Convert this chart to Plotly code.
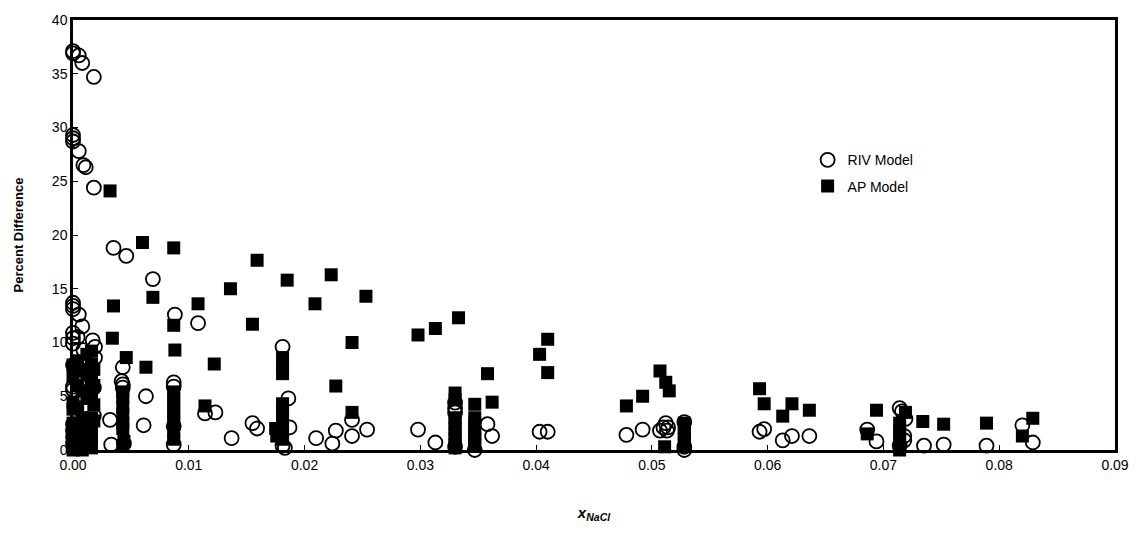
import plotly.graph_objects as go

# RIV model: (x_NaCl, percent difference)
riv_x = [0.0, 0.0, 0.0, 0.0, 0.0, 0.0, 0.0, 0.0, 0.0, 0.0, 0.0, 0.0, 0.0, 0.0, 0.0, 0.0, 0.0, 0.0,
         0.0005, 0.0005, 0.0005, 0.0004, 0.0005, 0.0005,
         0.0008, 0.0009, 0.0011, 0.0008, 0.0009, 0.0009,
         0.0018, 0.0018, 0.0017, 0.0019, 0.0019, 0.0018, 0.0018,
         0.0035, 0.0032, 0.0033,
         0.0046, 0.0043, 0.0042, 0.0043, 0.0043, 0.0044,
         0.0069, 0.0063, 0.0061,
         0.0088, 0.0087, 0.0087, 0.0087, 0.0087,
         0.0108, 0.0114, 0.0123,
         0.0137, 0.0155, 0.0159,
         0.0181, 0.0186, 0.0187, 0.0181, 0.0183,
         0.0210, 0.0224, 0.0227, 0.0241, 0.0241, 0.0254,
         0.0298, 0.0313,
         0.0330, 0.0330, 0.0330, 0.0330,
         0.0347,
         0.0358, 0.0362, 0.0403, 0.0410,
         0.0478, 0.0492, 0.0507, 0.0512, 0.0510, 0.0514, 0.0513,
         0.0528, 0.0528, 0.0528,
         0.0593, 0.0597, 0.0613, 0.0621, 0.0636,
         0.0686, 0.0694,
         0.0714, 0.0716, 0.0719, 0.0718, 0.0718, 0.0714,
         0.0735, 0.0752, 0.0789, 0.0820, 0.0829]
riv_y = [37.1, 36.9, 29.3, 29.0, 28.7, 13.7, 13.4, 13.1, 10.9, 10.4, 9.9, 7.9, 5.9, 5.6, 2.4, 1.8, 1.2, 0.6,
         36.7, 27.8, 12.6, 10.5, 6.2, 2.0,
         36.0, 26.5, 26.3, 11.5, 9.3, 5.0,
         34.7, 24.4, 10.2, 9.6, 8.6, 5.8, 3.2,
         18.8, 2.8, 0.5,
         18.05, 7.7, 6.4, 6.1, 5.8, 0.6,
         15.9, 5.0, 2.3,
         12.6, 6.3, 5.9, 2.2, 0.5,
         11.8, 3.4, 3.5,
         1.1, 2.5, 2.0,
         9.6, 4.8, 2.1, 0.4, 0.2,
         1.1, 0.6, 1.8, 2.8, 1.3, 1.9,
         1.9, 0.7,
         4.4, 3.9, 3.5, 0.3,
         0.0,
         2.4, 1.3, 1.7, 1.7,
         1.4, 1.9, 1.8, 2.5, 2.1, 2.1, 1.8,
         2.6, 0.3, 0.0,
         1.7, 1.95, 0.9, 1.3, 1.3,
         1.9, 0.8,
         3.9, 3.6, 2.9, 1.3, 0.9, 0.4,
         0.4, 0.5, 0.4, 2.3, 0.7]

# AP model: (x_NaCl, percent difference)
ap_x = [0.0, 0.0, 0.0, 0.0, 0.0, 0.0, 0.0, 0.0, 0.0,
        0.0004, 0.0004, 0.0004, 0.0004, 0.0004,
        0.0008, 0.0008, 0.0008, 0.0008, 0.0008,
        0.0012, 0.0012, 0.0012, 0.0012, 0.0012,
        0.0016, 0.0016, 0.0016, 0.0016, 0.0016, 0.0016, 0.0016, 0.0016,
        0.0018, 0.0018, 0.0018, 0.0018,
        0.0032, 0.0035, 0.0034,
        0.0046, 0.0043, 0.0043, 0.0043, 0.0043, 0.0043, 0.0043, 0.0044, 0.0043,
        0.0060, 0.0069, 0.0063,
        0.0087, 0.0087, 0.0088, 0.0087, 0.0087, 0.0087, 0.0087, 0.0087, 0.0087, 0.0087, 0.0087,
        0.0108, 0.0122, 0.0114, 0.0136,
        0.0159, 0.0155,
        0.0185, 0.0181, 0.0181, 0.0181, 0.0181, 0.0181, 0.0181, 0.0181, 0.0181, 0.0181, 0.0175, 0.0176,
        0.0223, 0.0209, 0.0253, 0.0241, 0.0227, 0.0241,
        0.0298, 0.0313, 0.0333,
        0.0330, 0.0330, 0.0330, 0.0330, 0.0330, 0.0330, 0.0330, 0.0330, 0.0330,
        0.0347, 0.0347, 0.0347, 0.0347, 0.0347, 0.0347, 0.0347,
        0.0358, 0.0362,
        0.0410, 0.0403, 0.0410,
        0.0478, 0.0492, 0.0507, 0.0512, 0.0515,
        0.0528, 0.0528, 0.0528, 0.0528, 0.0528, 0.0511,
        0.0593, 0.0597, 0.0621, 0.0613, 0.0636,
        0.0686, 0.0694,
        0.0719, 0.0714, 0.0714, 0.0714, 0.0714, 0.0714,
        0.0734, 0.0752, 0.0789, 0.0829, 0.0820]
ap_y = [7.9, 6.8, 4.4, 3.8, 2.5, 1.8, 1.0, 0.3, 0.0,
        8.3, 6.0, 4.0, 2.0, 0.5,
        7.5, 5.5, 3.0, 1.5, 0.0,
        8.9, 7.0, 4.8, 2.5, 1.0,
        9.2, 8.0, 6.5, 4.8, 3.0, 2.2, 1.2, 0.2,
        7.5, 6.0, 4.2, 2.7,
        24.1, 13.4, 10.4,
        8.6, 5.4, 4.9, 4.0, 3.3, 2.5, 2.0, 0.8, 0.4,
        19.3, 14.2, 7.7,
        18.8, 11.6, 9.3, 5.4, 4.8, 4.2, 3.6, 3.0, 2.4, 1.6, 1.0,
        13.6, 8.0, 4.1, 15.0,
        17.65, 11.7,
        15.8, 8.6, 7.9, 7.1, 4.3, 3.6, 3.0, 2.3, 1.6, 1.0, 2.0, 1.3,
        16.3, 13.6, 14.3, 10.0, 5.95, 3.5,
        10.7, 11.3, 12.3,
        5.3, 4.7, 3.0, 2.5, 2.0, 1.5, 1.0, 0.5, 0.2,
        4.25, 3.0, 2.5, 2.0, 1.5, 1.0, 0.5,
        7.1, 4.45,
        10.3, 8.9, 7.2,
        4.1, 5.0, 7.35, 6.3, 5.5,
        2.5, 2.0, 1.5, 1.0, 0.6, 0.3,
        5.7, 4.3, 4.3, 3.15, 3.7,
        1.5, 3.7,
        3.5, 2.5, 1.8, 1.2, 0.6, 0.0,
        2.65, 2.4, 2.5, 2.95, 1.3]

x_ticks = [0.0, 0.01, 0.02, 0.03, 0.04, 0.05, 0.06, 0.07, 0.08, 0.09]
x_tick_text = ["0.00", "0.01", "0.02", "0.03", "0.04", "0.05", "0.06", "0.07", "0.08", "0.09"]
y_ticks = [0, 5, 10, 15, 20, 25, 30, 35, 40]

font_family = "Liberation Sans, Arial, sans-serif"

fig = go.Figure()
fig.add_trace(go.Scatter(
    x=riv_x, y=riv_y, mode="markers", name="RIV Model", legendgroup="riv",
    marker=dict(symbol="circle-open", size=14, color="black", line=dict(width=1.8, color="black")),
    cliponaxis=False,
))
fig.add_trace(go.Scatter(
    x=ap_x, y=ap_y, mode="markers", name="AP Model", legendgroup="ap",
    marker=dict(symbol="square", size=13, color="black", line=dict(width=0)),
    cliponaxis=False,
))

fig.update_layout(
    width=1141, height=554,
    margin=dict(l=73, r=25, t=16, b=104),
    paper_bgcolor="white", plot_bgcolor="white",
    font=dict(family=font_family, size=14, color="black"),
    showlegend=True,
    legend=dict(
        x=0.705, y=0.711, xanchor="left", yanchor="top",
        bgcolor="rgba(0,0,0,0)", borderwidth=0,
        font=dict(family=font_family, size=14, color="black"),
        itemsizing="trace", tracegroupgap=5, itemwidth=30,
    ),
    xaxis=dict(
        range=[0, 0.09], tickmode="array", tickvals=x_ticks, ticktext=x_tick_text,
        showgrid=False, zeroline=False,
        showline=True, linecolor="black", linewidth=2.5, mirror=True,
        ticks="inside", ticklen=5, tickwidth=1, tickcolor="black",
        tickfont=dict(size=14),
        title=dict(text="<b><i>x</i></b><sub><b><i>NaCl</i></b></sub>",
                   font=dict(size=15), standoff=36),
    ),
    yaxis=dict(
        range=[0, 40], tickmode="array", tickvals=y_ticks,
        showgrid=False, zeroline=False,
        showline=True, linecolor="black", linewidth=2.5, mirror=True,
        ticks="inside", ticklen=5, tickwidth=1, tickcolor="black",
        tickfont=dict(size=14),
        title=dict(text="<b>Percent Difference</b>", font=dict(size=13), standoff=26),
    ),
)

fig.write_html("out.html")
